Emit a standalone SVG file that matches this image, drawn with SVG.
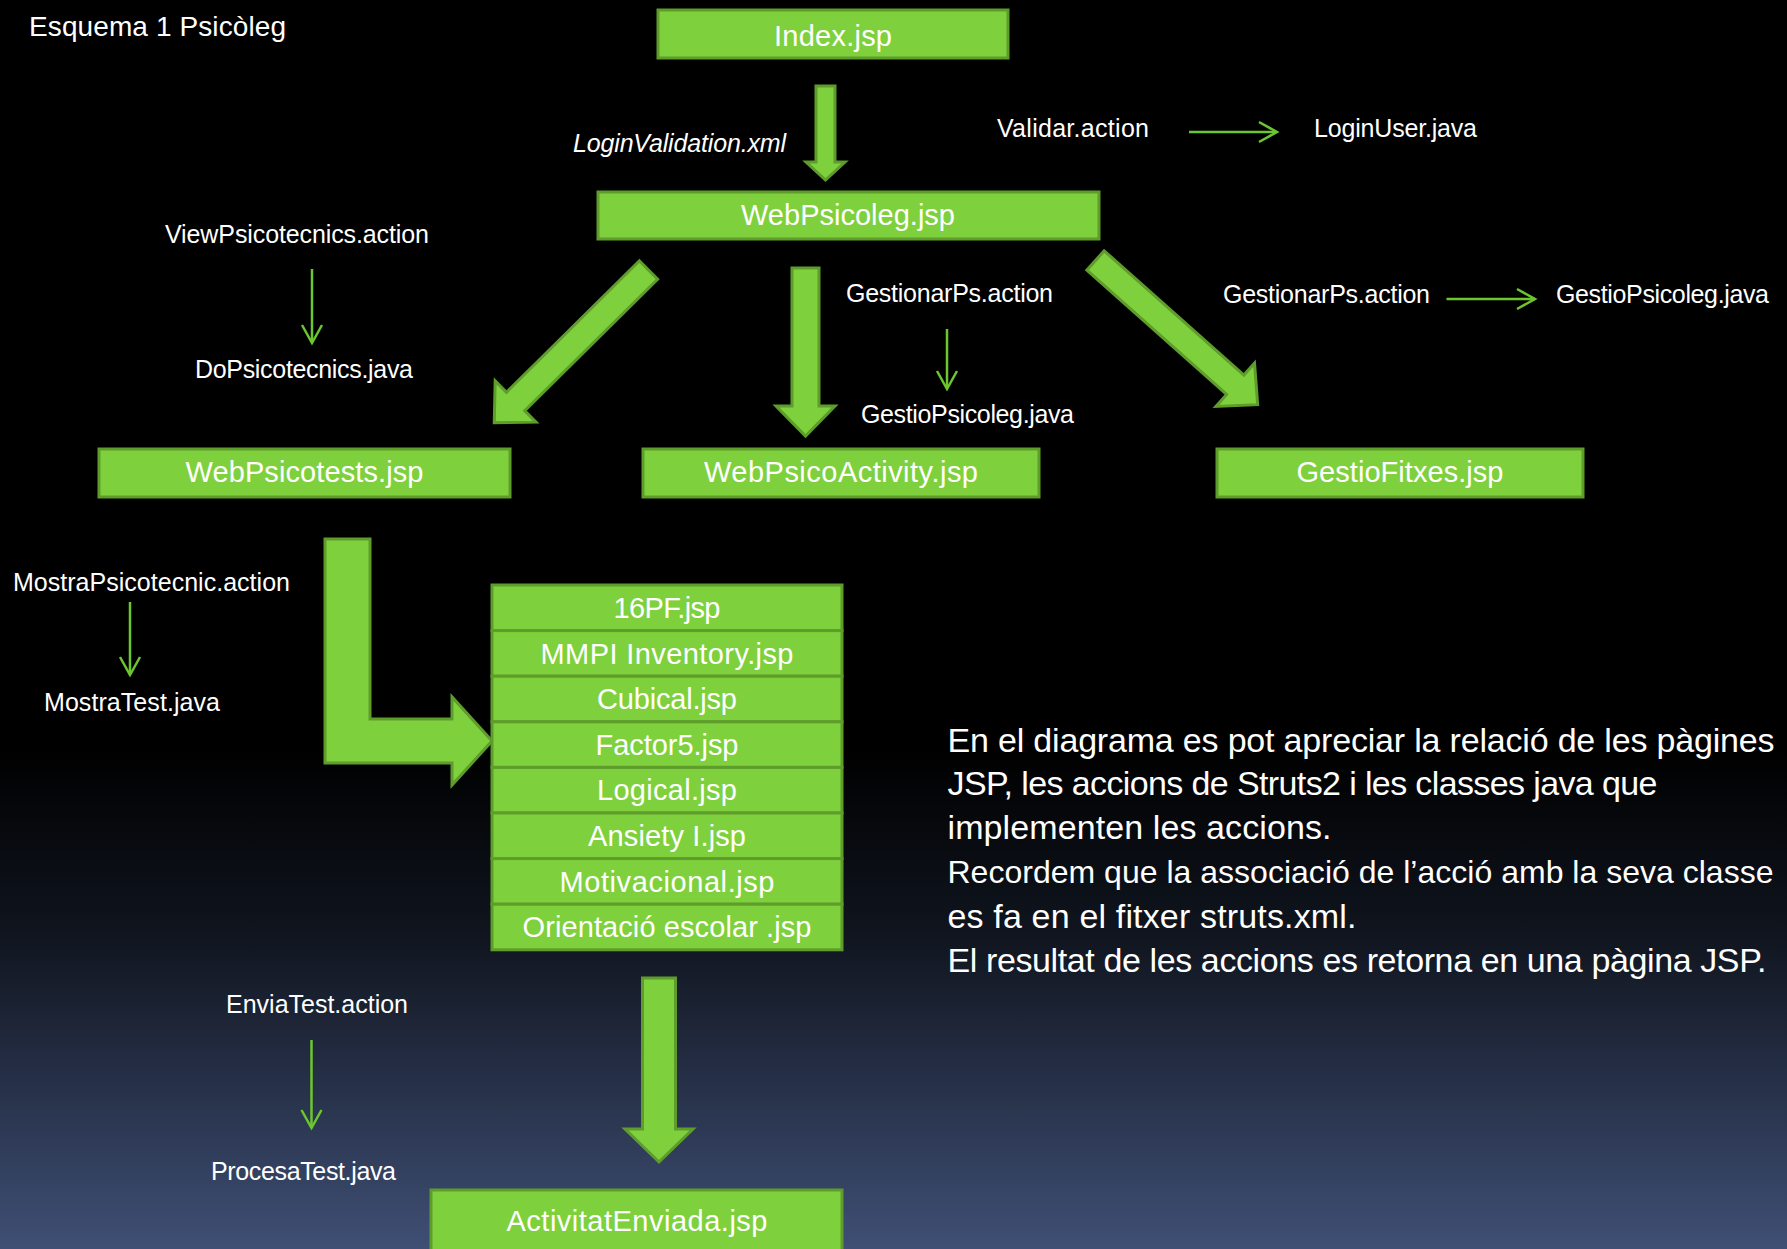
<svg xmlns="http://www.w3.org/2000/svg" width="1787" height="1249" viewBox="0 0 1787 1249">
<defs>
<linearGradient id="bg" x1="0" y1="0" x2="0" y2="1">
<stop offset="0" stop-color="#000000"/>
<stop offset="0.6" stop-color="#000000"/>
<stop offset="0.75" stop-color="#10151f"/>
<stop offset="1" stop-color="#3f4f75"/>
</linearGradient>
<marker id="chev" markerUnits="userSpaceOnUse" markerWidth="24" markerHeight="24" viewBox="-20 -12 24 24" refX="0" refY="0" orient="auto">
<path d="M-18,-10 L0,0 L-18,10" fill="none" stroke="#6cc62f" stroke-width="2.5"/>
</marker>
</defs>
<style>
.box{fill:#7ed13c;stroke:#5e9c2c;stroke-width:3}
.blk{fill:#7ed13c;stroke:#5e9c2c;stroke-width:3;stroke-linejoin:miter}
.thin{stroke:#6cc62f;stroke-width:2.5;fill:none;marker-end:url(#chev)}
.bt{font-family:"Liberation Sans",Arial,sans-serif;font-size:29px;fill:#ffffff;text-anchor:middle}
.lb{font-family:"Liberation Sans",Arial,sans-serif;font-size:25px;fill:#ffffff}
.pt{font-family:"Liberation Sans",Arial,sans-serif;font-size:34px;fill:#ffffff}
</style>
<rect x="0" y="0" width="1787" height="1249" fill="url(#bg)"/>

<text class="lb" x="29" y="36" style="font-size:28px" textLength="257">Esquema 1 Psicòleg</text>

<g id="connectors">
<path class="blk" d="M816,86 H835 V162 H845 L825.5,180 L806,162 H816 Z"/>
<path class="blk" transform="translate(648.5,270) rotate(135.3)" d="M0,-13 H187 V-29 L217,0 L187,29 V13 H0 Z"/>
<path class="blk" d="M792,268 H819 V406 H835 L805.5,436 L776,406 H792 Z"/>
<path class="blk" transform="translate(1095.5,260.5) rotate(41.64)" d="M0,-13 H187 V-29 L217,0 L187,29 V13 H0 Z"/>
<path class="blk" d="M325,539 H370 V719 H452 V697 L492,741 L452,785 V763 H325 Z"/>
<path class="blk" d="M642.5,978 H675.5 V1129 H693 L659,1162 L625,1129 H642.5 Z"/>
<line class="thin" x1="1189" y1="132" x2="1277" y2="132"/>
<line class="thin" x1="312" y1="269" x2="312" y2="343"/>
<line class="thin" x1="947" y1="329" x2="947" y2="389"/>
<line class="thin" x1="1446.5" y1="299" x2="1535" y2="299"/>
<line class="thin" x1="130" y1="602" x2="130" y2="675"/>
<line class="thin" x1="311.5" y1="1040" x2="311.5" y2="1128"/>
</g>

<g id="labels">
<text class="lb" x="573" y="152" font-style="italic" textLength="213">LoginValidation.xml</text>
<text class="lb" x="997" y="137" textLength="152">Validar.action</text>
<text class="lb" x="1314" y="137" textLength="163">LoginUser.java</text>
<text class="lb" x="165" y="243" textLength="264">ViewPsicotecnics.action</text>
<text class="lb" x="195" y="378" textLength="218">DoPsicotecnics.java</text>
<text class="lb" x="846" y="302" textLength="207">GestionarPs.action</text>
<text class="lb" x="861" y="423" textLength="213">GestioPsicoleg.java</text>
<text class="lb" x="1223" y="303" textLength="207">GestionarPs.action</text>
<text class="lb" x="1556" y="303" textLength="213">GestioPsicoleg.java</text>
<text class="lb" x="13" y="591" textLength="277">MostraPsicotecnic.action</text>
<text class="lb" x="44" y="711" textLength="176">MostraTest.java</text>
<text class="lb" x="226" y="1013" textLength="182">EnviaTest.action</text>
<text class="lb" x="211" y="1180" textLength="185">ProcesaTest.java</text>
</g>

<g id="index">
<rect class="box" x="658" y="10" width="350" height="48"/>
<text class="bt" x="833" y="46" textLength="118">Index.jsp</text>
</g>
<g id="webpsicoleg">
<rect class="box" x="598" y="192" width="501" height="47"/>
<text class="bt" x="848" y="225" textLength="214">WebPsicoleg.jsp</text>
</g>
<g id="webpsicotests">
<rect class="box" x="99" y="449" width="411" height="48"/>
<text class="bt" x="304.5" y="482" textLength="238">WebPsicotests.jsp</text>
</g>
<g id="webpsicoactivity">
<rect class="box" x="643" y="449" width="396" height="48"/>
<text class="bt" x="841" y="482" textLength="274">WebPsicoActivity.jsp</text>
</g>
<g id="gestiofitxes">
<rect class="box" x="1217" y="449" width="366" height="48"/>
<text class="bt" x="1400" y="482" textLength="207">GestioFitxes.jsp</text>
</g>
<g id="tests">
<rect class="box" x="492" y="585" width="350" height="45.6"/>
<rect class="box" x="492" y="630.6" width="350" height="45.6"/>
<rect class="box" x="492" y="676.2" width="350" height="45.6"/>
<rect class="box" x="492" y="721.8" width="350" height="45.6"/>
<rect class="box" x="492" y="767.4" width="350" height="45.6"/>
<rect class="box" x="492" y="813" width="350" height="45.6"/>
<rect class="box" x="492" y="858.6" width="350" height="45.6"/>
<rect class="box" x="492" y="904.2" width="350" height="45.6"/>
<text class="bt" x="667" y="618" textLength="107">16PF.jsp</text>
<text class="bt" x="667" y="664" textLength="253">MMPI Inventory.jsp</text>
<text class="bt" x="667" y="709" textLength="140">Cubical.jsp</text>
<text class="bt" x="667" y="755" textLength="143">Factor5.jsp</text>
<text class="bt" x="667" y="800" textLength="140">Logical.jsp</text>
<text class="bt" x="667" y="846" textLength="158">Ansiety I.jsp</text>
<text class="bt" x="667" y="892" textLength="215">Motivacional.jsp</text>
<text class="bt" x="667" y="937" textLength="289">Orientació escolar .jsp</text>
</g>
<g id="activitatenviada">
<rect class="box" x="431" y="1190" width="411" height="70"/>
<text class="bt" x="637" y="1231" textLength="261">ActivitatEnviada.jsp</text>
</g>

<g id="description">
<text class="pt" x="947.5" y="752" textLength="827">En el diagrama es pot apreciar la relació de les pàgines</text>
<text class="pt" x="947.5" y="795" textLength="710">JSP, les accions de Struts2 i les classes java que</text>
<text class="pt" x="947.5" y="839" textLength="384">implementen les accions.</text>
<text class="pt" x="947.5" y="883" style="font-size:32px" textLength="826">Recordem que la associació de l’acció amb la seva classe</text>
<text class="pt" x="947.5" y="928" textLength="409">es fa en el fitxer struts.xml.</text>
<text class="pt" x="947.5" y="972" textLength="819">El resultat de les accions es retorna en una pàgina JSP.</text>
</g>
</svg>
